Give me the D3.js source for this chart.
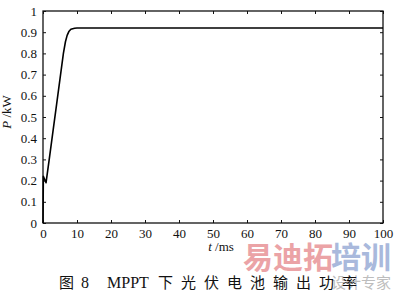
<!DOCTYPE html>
<html>
<head>
<meta charset="utf-8">
<script src="https://cdn.jsdelivr.net/npm/d3@7"></script>
<style>
  body { margin: 0; background: #fff; }
  svg { display: block; }
</style>
</head>
<body>
<div id="chart"></div>
<script>
// output power of the PV cell under MPPT
var timeMs = [0, 0.1, 0.9, 2, 3, 4, 5, 6, 6.6, 7.1, 7.6, 8.2, 9.3, 10, 100];
var powerKw = [0, 0.22, 0.19, 0.32, 0.44, 0.56, 0.68, 0.80, 0.855, 0.885, 0.903, 0.914, 0.919, 0.92, 0.92];
var xTicks = [0, 10, 20, 30, 40, 50, 60, 70, 80, 90, 100];
var yTicks = [0, 0.1, 0.2, 0.3, 0.4, 0.5, 0.6, 0.7, 0.8, 0.9, 1];

var W = 394, H = 292;
var margin = {top: 11, right: 11, bottom: 69, left: 43};
var width = W - margin.left - margin.right,
    height = H - margin.top - margin.bottom;

var svg = d3.select("#chart")
  .append("svg")
    .attr("width", W)
    .attr("height", H);

var g = svg.append("g")
    .attr("transform", "translate(" + margin.left + "," + margin.top + ")");

var x = d3.scaleLinear().domain([0, 100]).range([0, width]);
var y = d3.scaleLinear().domain([0, 1]).range([height, 0]);

var serif = "'Liberation Serif', 'DejaVu Serif', serif";

// axes, ticks pointing inward
g.append("g")
    .attr("transform", "translate(0," + height + ")")
    .call(d3.axisBottom(x).tickValues(xTicks).tickSizeInner(-3).tickSizeOuter(0).tickPadding(6));
g.append("g")
    .call(d3.axisLeft(y).tickValues(yTicks).tickSizeInner(-3).tickSizeOuter(0).tickPadding(6)
          .tickFormat(function(d) { return d3.format("")(d); }));
// top and right: ticks only
g.append("g")
    .call(d3.axisTop(x).tickValues(xTicks).tickSizeInner(-3).tickSizeOuter(0).tickFormat(""));
g.append("g")
    .attr("transform", "translate(" + width + ",0)")
    .call(d3.axisRight(y).tickValues(yTicks).tickSizeInner(-3).tickSizeOuter(0).tickFormat(""));

g.selectAll(".domain").remove();
g.selectAll(".tick line").attr("stroke", "#111").attr("stroke-width", 1);
g.selectAll(".tick text")
    .attr("fill", "#111")
    .style("font-family", serif)
    .style("font-size", "13px");

g.append("rect")
    .attr("width", width)
    .attr("height", height)
    .attr("fill", "none")
    .attr("stroke", "#111")
    .attr("stroke-width", 1.3);

// curve
var pts = timeMs.map(function(t, i) { return [t, powerKw[i]]; });
var line = d3.line()
    .x(function(d) { return x(d[0]); })
    .y(function(d) { return y(d[1]); });

g.append("path")
    .datum(pts)
    .attr("fill", "none")
    .attr("stroke", "#000")
    .attr("stroke-width", 1.6)
    .attr("stroke-linejoin", "round")
    .attr("d", line);

// axis titles
var yt = svg.append("text")
    .attr("transform", "translate(11,112) rotate(-90)")
    .attr("text-anchor", "middle")
    .style("font-family", serif)
    .style("font-size", "13px")
    .attr("fill", "#111");
yt.append("tspan").style("font-style", "italic").text("P");
yt.append("tspan").text(" /kW");

var xt = svg.append("text")
    .attr("x", 221)
    .attr("y", 251)
    .attr("text-anchor", "middle")
    .style("font-family", serif)
    .style("font-size", "13px")
    .attr("fill", "#111");
xt.append("tspan").style("font-style", "italic").text("t");
xt.append("tspan").text(" /ms");

// watermark
svg.append("text")
    .attr("x", 243).attr("y", 268)
    .style("font-family", "'Noto Sans CJK SC', sans-serif")
    .style("font-weight", "bold")
    .style("font-size", "30px")
    .attr("fill", "#eba3a6")
    .text("易迪拓");
svg.append("text")
    .attr("x", 331).attr("y", 268)
    .style("font-family", "'Noto Sans CJK SC', sans-serif")
    .style("font-weight", "bold")
    .style("font-size", "30px")
    .attr("fill", "#a9b9dc")
    .text("培训");
svg.append("text")
    .attr("x", 391).attr("y", 288)
    .attr("text-anchor", "end")
    .style("font-family", "'Noto Sans CJK SC', sans-serif")
    .style("font-size", "15px")
    .attr("fill", "#bdbdbd")
    .text("设计专家");

// caption
var cap = svg.append("text")
    .attr("x", 59)
    .attr("y", 288)
    .style("font-family", "'Noto Sans CJK SC', serif")
    .style("font-size", "15px")
    .attr("fill", "#111");
cap.append("tspan").text("图");
cap.append("tspan").attr("x", 81).style("font-family", serif).style("font-size", "16px").text("8");
cap.append("tspan").attr("x", 107).style("font-family", serif).style("font-size", "16px").text("MPPT");
cap.append("tspan").attr("x", 158).style("letter-spacing", "8px").text("下光伏电池输出功率");
</script>
</body>
</html>
